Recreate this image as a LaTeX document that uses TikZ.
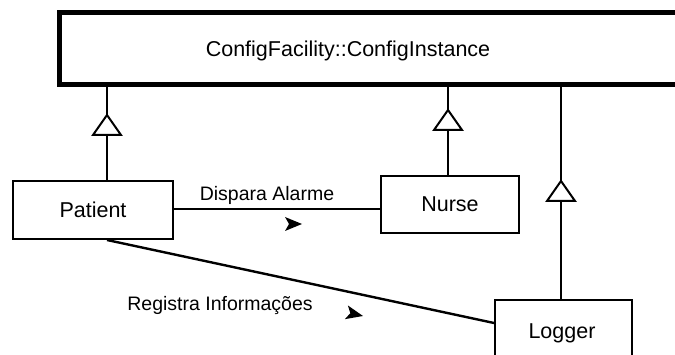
\documentclass[tikz,border=0pt]{standalone}
\usepackage{fontspec}
\setmainfont{Liberation Sans}
\usetikzlibrary{calc}
\begin{document}
\begin{tikzpicture}[x=1pt,y=-1pt,
  classbox/.style={draw, line width=2pt, inner sep=0pt, font=\fontsize{21.5}{24}\selectfont},
  conn/.style={line width=2pt},
  msg/.style={font=\fontsize{19.5}{22}\selectfont, inner sep=0pt},
  gen/.pic={\draw[line width=2pt, fill=white, line join=miter] (0,0) -- (14,20) -- (-14,20) -- cycle;},
  dirmark/.pic={\fill (0,0) -- (-17,-7) -- (-13,0) -- (-17,7) -- cycle;}
]
\clip (0,0) rectangle (675,355);

% classes
\node[draw, line width=5pt, minimum width=650pt, minimum height=72pt, inner sep=0pt] (top) at (384.5,48.5) {};
\node[font=\fontsize{21.5}{24}\selectfont, inner sep=0pt] (toptext) at (348,51) {ConfigFacility::ConfigInstance};
\node[classbox, minimum width=160pt, minimum height=58pt] (patient) at (93,210) {Patient};
\node[classbox, minimum width=138pt, minimum height=57pt] (nurse) at (450,204.5) {Nurse};
\node[classbox, minimum width=137pt, minimum height=70pt] (logger) at (563.5,335) {};
\node[font=\fontsize{21.5}{24}\selectfont, inner sep=0pt] (loggertext) at (562,333) {Logger};

% apex points of the generalization triangles
\coordinate (pg) at (107,115);
\coordinate (ng) at (448,110);
\coordinate (lg) at (561,181);
\coordinate (dl) at (0,209);

% generalizations
\draw[conn] (pg |- patient.north) -- (pg |- top.south);
\draw[conn] (ng |- nurse.north) -- (ng |- top.south);
\draw[conn] (lg |- logger.north) -- (lg |- top.south);
\pic at (pg) {gen};
\pic at (ng) {gen};
\pic at (lg) {gen};

% associations
\draw[conn] (patient.east |- dl) -- (nurse.west |- dl);
\draw[line width=2.4pt] (pg |- patient.south) -- ($(logger.north west)+(0,24)$);

\node[msg] (alarm) at (267,195) {Dispara Alarme};
\pic at (302,224) {dirmark};
\node[msg] (reg) at (220,306) {Registra Informações};
\pic[rotate=-12.5] at (363,316) {dirmark};
\end{tikzpicture}
\end{document}
